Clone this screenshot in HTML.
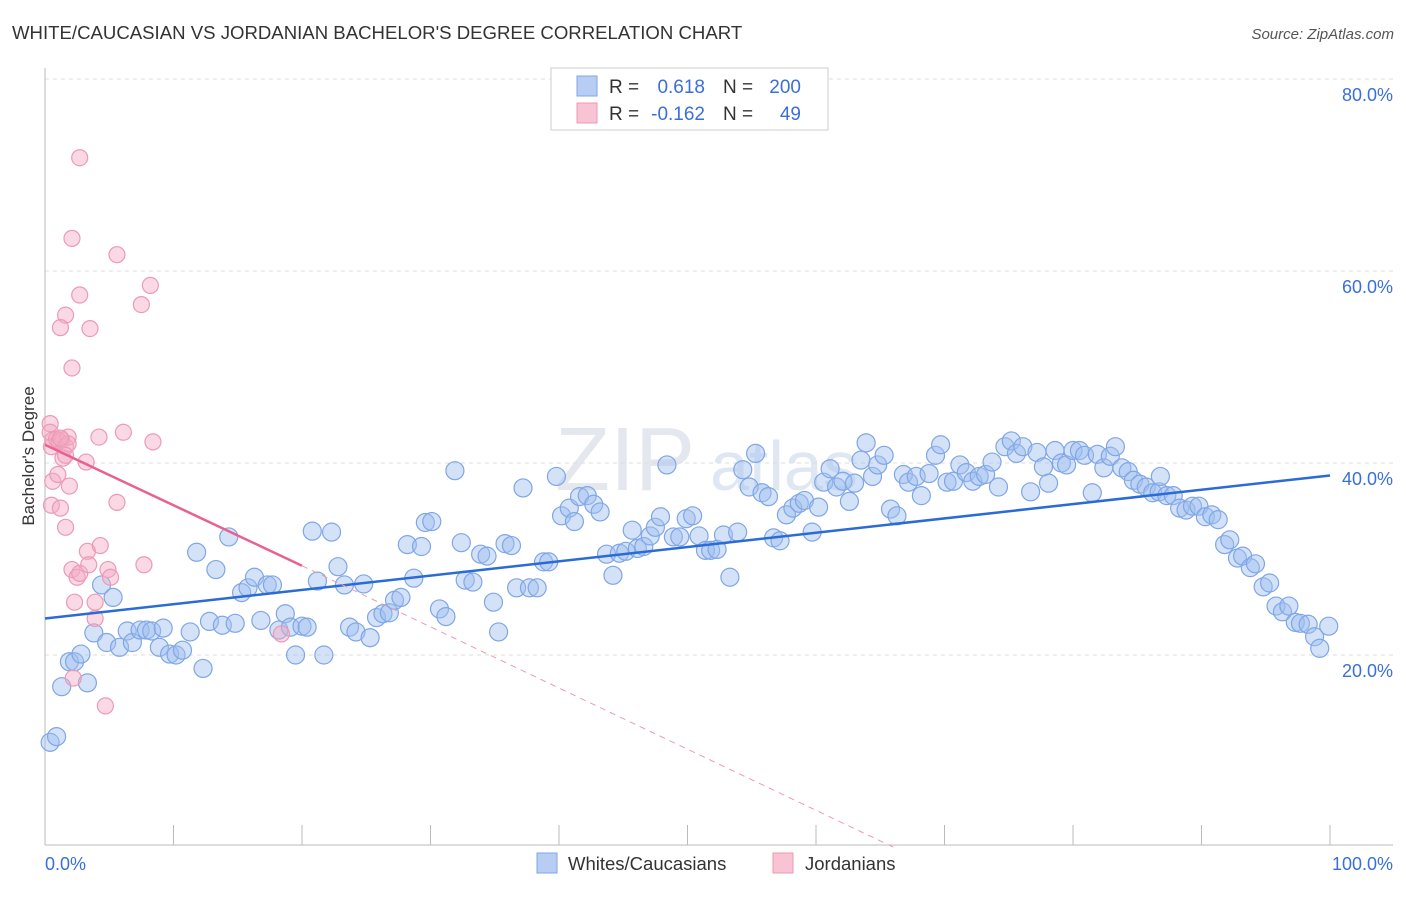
<!DOCTYPE html>
<html><head><meta charset="utf-8"><style>
body{margin:0;background:#fff;font-family:"Liberation Sans",sans-serif;}
svg text{font-family:"Liberation Sans",sans-serif;}
</style></head><body>
<svg id="chart" width="1406" height="892" xmlns="http://www.w3.org/2000/svg">
<text x="12" y="39" font-size="18.6" fill="#333">WHITE/CAUCASIAN VS JORDANIAN BACHELOR'S DEGREE CORRELATION CHART</text>
<text x="1394" y="39" font-size="15" fill="#555" font-style="italic" text-anchor="end">Source: ZipAtlas.com</text>
<text x="555" y="490" font-size="90" fill="#e4e8ee" font-family="Liberation Serif">ZIP</text>
<text x="710" y="490" font-size="70" fill="#dfe7f3">atlas</text>
<g id="grid"></g><g id="marks"></g>
<text transform="translate(34,456) rotate(-90)" font-size="17" fill="#333" text-anchor="middle">Bachelor's Degree</text>
<g>
<rect x="551" y="68" width="277" height="62" fill="#fff" stroke="#ccc"/>
<rect x="577" y="76" width="20" height="20" fill="#b7cdf4" stroke="#7fa6e6"/>
<rect x="577" y="103" width="20" height="20" fill="#f8c3d3" stroke="#ec9ab5"/>
<text x="609" y="93" font-size="19" fill="#333">R =</text>
<text x="705" y="93" font-size="19" fill="#3a6fd8" text-anchor="end">0.618</text>
<text x="723" y="93" font-size="19" fill="#333">N =</text>
<text x="801" y="93" font-size="19" fill="#3a6fd8" text-anchor="end">200</text>
<text x="609" y="120" font-size="19" fill="#333">R =</text>
<text x="705" y="120" font-size="19" fill="#3a6fd8" text-anchor="end">-0.162</text>
<text x="723" y="120" font-size="19" fill="#333">N =</text>
<text x="801" y="120" font-size="19" fill="#3a6fd8" text-anchor="end">49</text>
</g>
<g>
<rect x="537" y="853" width="20" height="20" fill="#b7cdf4" stroke="#7fa6e6"/>
<text x="568" y="870" font-size="18.5" fill="#333">Whites/Caucasians</text>
<rect x="773" y="853" width="20" height="20" fill="#f8c3d3" stroke="#ec9ab5"/>
<text x="805" y="870" font-size="18.5" fill="#333">Jordanians</text>
</g>
</svg>
<script>
const blueX=[0.4,0.9,1.3,1.9,2.3,2.8,3.3,3.8,4.4,4.8,5.3,5.8,6.4,6.8,7.4,7.9,8.3,8.9,9.2,9.7,10.2,10.7,11.3,11.8,12.3,12.8,13.3,13.8,14.3,14.8,15.3,15.8,16.3,16.8,17.3,17.7,18.2,18.7,19.1,19.5,20.0,20.4,20.8,21.2,21.7,22.3,22.8,23.3,23.7,24.2,24.8,25.3,25.8,26.3,26.8,27.2,27.7,28.2,28.7,29.3,29.6,30.1,30.7,31.2,31.9,32.4,32.7,33.3,33.9,34.4,34.9,35.3,35.8,36.3,36.7,37.2,37.7,38.3,38.8,39.2,39.8,40.2,40.8,41.2,41.6,42.2,42.7,43.2,43.7,44.2,44.7,45.2,45.7,46.1,46.6,47.1,47.5,47.9,48.4,48.9,49.4,49.9,50.4,50.9,51.4,51.8,52.3,52.8,53.3,53.9,54.3,54.8,55.3,55.8,56.3,56.7,57.2,57.7,58.2,58.7,59.1,59.7,60.2,60.6,61.1,61.6,62.1,62.6,63.0,63.5,63.9,64.4,64.8,65.3,65.8,66.3,66.8,67.2,67.8,68.2,68.8,69.3,69.7,70.2,70.7,71.2,71.7,72.2,72.7,73.2,73.7,74.2,74.7,75.2,75.6,76.1,76.7,77.2,77.7,78.1,78.6,79.1,79.5,80.0,80.5,80.9,81.5,81.9,82.4,82.9,83.3,83.8,84.3,84.7,85.2,85.7,86.2,86.7,86.8,87.3,87.8,88.3,88.8,89.3,89.8,90.3,90.8,91.3,91.8,92.2,92.8,93.2,93.8,94.2,94.8,95.3,95.8,96.3,96.8,97.3,97.7,98.3,98.8,99.2,99.9];
const blueY=[10.9,11.5,16.7,19.3,19.3,20.1,17.1,22.3,27.3,21.3,26.0,20.8,22.5,21.3,22.6,22.6,22.5,20.8,22.8,20.1,20.0,20.5,22.4,30.7,18.6,23.5,28.9,23.1,32.3,23.3,26.5,27.0,28.1,23.6,27.3,27.3,22.6,24.3,22.9,20.0,23.0,22.9,32.9,27.7,20.0,32.8,29.2,27.3,22.9,22.4,27.4,21.8,23.9,24.3,24.4,25.7,26.0,31.5,28.0,31.3,33.8,33.9,24.8,24.0,39.2,31.7,27.8,27.6,30.5,30.3,25.5,22.4,31.6,31.4,27.0,37.4,27.0,27.0,29.7,29.7,38.6,34.5,35.3,33.9,36.5,36.6,35.7,34.9,30.5,28.3,30.6,30.8,33.0,31.1,31.3,32.4,33.3,34.4,39.8,32.3,32.3,34.2,34.5,32.4,30.9,30.9,31.0,32.5,28.1,32.8,39.3,37.5,41.0,36.9,36.5,32.2,31.9,34.6,35.3,35.8,36.1,32.8,35.4,38.0,39.4,37.5,38.1,36.0,37.9,40.3,42.1,38.6,39.8,40.8,35.2,34.5,38.8,38.0,38.6,36.6,38.9,40.8,41.9,38.0,38.1,39.8,39.0,38.1,38.6,38.8,40.1,37.5,41.7,42.3,41.0,41.7,37.0,41.1,39.6,37.9,41.3,40.0,39.8,41.3,41.3,40.8,36.9,40.9,39.5,40.7,41.7,39.5,39.1,38.2,37.8,37.5,36.9,37.0,38.6,36.6,36.6,35.3,35.1,35.5,35.5,34.4,34.6,34.1,31.5,32.0,30.1,30.3,29.1,29.5,27.1,27.5,25.1,24.5,25.1,23.4,23.3,23.2,21.9,20.7,23.0];
const pinkX=[0.4,0.4,0.5,0.6,0.9,1.1,1.3,1.6,1.8,1.4,0.6,0.5,1.2,1.6,3.3,4.3,2.1,2.5,2.7,3.4,4.9,5.1,7.7,2.3,3.9,3.9,2.2,4.7,18.4,2.7,2.1,5.6,2.7,8.2,7.5,1.6,1.2,3.5,2.1,6.1,4.2,8.4,3.2,5.6,1.9,1.8,1.2,1.0,1.6];
const pinkY=[44.1,43.2,41.7,42.4,42.5,42.3,42.4,41.7,42.7,40.5,38.1,35.6,35.3,33.3,30.8,31.4,28.9,28.1,28.5,29.4,28.9,28.1,29.4,25.5,25.5,23.8,17.6,14.7,22.2,71.8,63.4,61.7,57.5,58.5,56.5,55.4,54.1,54.0,49.9,43.2,42.7,42.2,40.1,35.9,37.6,42.0,42.6,38.8,40.8];
const yTicks=[20,40,60,80];
const yTickLabels=["20.0%","40.0%","60.0%","80.0%"];
const xTicks=[0,10,20,30,40,50,60,70,80,90,100];
const blueTrend=[[0,23.8],[100,38.7]];
const pinkTrend=[[0,41.9],[20,29.3]];
const pinkDash=[[20,29.3],[66,0]];
const NS='http://www.w3.org/2000/svg';
const sx=v=>45+v*12.85, sy=v=>847-v*9.6;
function mk(tag,attrs,parent){const e=document.createElementNS(NS,tag);for(const k in attrs)e.setAttribute(k,attrs[k]);parent.appendChild(e);return e;}
const gridG=document.getElementById('grid'), marksG=document.getElementById('marks');
yTicks.forEach((t,i)=>{
 const l=mk('line',{x1:45,x2:1393,y1:sy(t),y2:sy(t),stroke:'#ddd','stroke-dasharray':'4,4'},gridG);
 
 
 const tx=mk('text',{x:1393,y:sy(t)+22,'font-size':18,fill:'#3a6fd8','text-anchor':'end'},gridG);
 tx.textContent=yTickLabels[i];
 
 
});
const topLine=mk('line',{x1:45,x2:1393,y1:79,y2:79,stroke:'#ddd','stroke-dasharray':'4,4'},gridG);


const axX=mk('line',{x1:45,x2:1393,y1:845,y2:845,stroke:'#bbb'},gridG);


const axY=mk('line',{x1:45,x2:45,y1:68,y2:845,stroke:'#bbb'},gridG);


xTicks.forEach(t=>{const l=mk('line',{x1:sx(t),x2:sx(t),y1:825,y2:845,stroke:'#bbb'},gridG);
 
 });
const xl0=mk('text',{x:45,y:870,'font-size':18,fill:'#3a6fd8'},gridG);xl0.textContent='0.0%';


const xl1=mk('text',{x:1393,y:870,'font-size':18,fill:'#3a6fd8','text-anchor':'end'},gridG);xl1.textContent='100.0%';


blueX.forEach((v,i)=>{const c=mk('circle',{cx:sx(v),cy:sy(blueY[i]),r:9,fill:'rgba(160,190,240,0.45)',stroke:'#7fa6e6','stroke-width':1.2},marksG);
 
 });
pinkX.forEach((v,i)=>{const c=mk('circle',{cx:sx(v),cy:sy(pinkY[i]),r:8,fill:'rgba(245,170,195,0.45)',stroke:'#ec9ab5','stroke-width':1.2},marksG);
 
 });
const bl=mk('line',{x1:sx(blueTrend[0][0]),y1:sy(blueTrend[0][1]),x2:sx(blueTrend[1][0]),y2:sy(blueTrend[1][1]),stroke:'#2a6bd6','stroke-width':2.5},marksG);


const pl=mk('line',{x1:sx(pinkTrend[0][0]),y1:sy(pinkTrend[0][1]),x2:sx(pinkTrend[1][0]),y2:sy(pinkTrend[1][1]),stroke:'#e8628f','stroke-width':2.5},marksG);


const pd=mk('line',{x1:sx(pinkDash[0][0]),y1:sy(pinkDash[0][1]),x2:sx(pinkDash[1][0]),y2:sy(pinkDash[1][1]),stroke:'#ec9ab5','stroke-width':1,'stroke-dasharray':'6,5'},marksG);


</script>
</body></html>
